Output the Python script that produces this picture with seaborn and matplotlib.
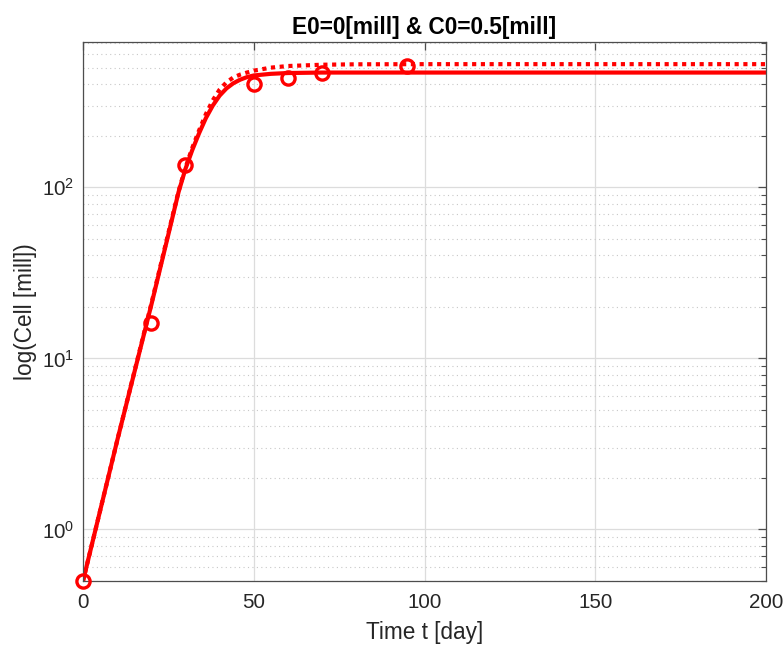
import numpy as np
import pandas as pd
import matplotlib
matplotlib.use("Agg")
import matplotlib.pyplot as plt
import seaborn as sns
from matplotlib.ticker import LogLocator, NullFormatter

# ---- data ----
obs_day = [0, 20, 30, 50, 60, 70, 95]
obs_cells = [0.5, 16.2, 135, 400, 437, 464, 514]

curve_day = [0, 10, 20, 25, 28, 30, 32, 34, 36, 38, 40, 42, 44, 46, 48, 50, 55, 60, 70, 80, 100, 150, 200]
solid_cells = [0.5, 3.3, 20.5, 53, 94, 128, 165, 207, 254, 300, 343, 378, 405, 425, 440, 450, 460, 465, 468, 468, 468, 468, 468]
dotted_cells = [0.5, 3.3, 20.8, 54, 95, 130, 170, 215, 268, 322, 372, 410, 438, 455, 468, 480, 500, 511, 520, 523, 524, 524, 524]

title = "E0=0[mill] & C0=0.5[mill]"
xlabel = "Time t [day]"
ylabel = "log(Cell [mill])"
xticks = [0, 50, 100, 150, 200]

sns.set_theme(style="white")
plt.rcParams['font.family'] = ['Liberation Sans', 'DejaVu Sans']
plt.rcParams['mathtext.fontset'] = 'custom'
plt.rcParams['mathtext.rm'] = 'Liberation Sans'
plt.rcParams['mathtext.it'] = 'Liberation Sans:italic'
plt.rcParams['mathtext.bf'] = 'Liberation Sans:bold'

fig = plt.figure(figsize=(7.84, 6.46), dpi=100)
ax = fig.add_axes([83/784, 1-581/646, (766-83)/784, (581-42)/646])

curves = pd.DataFrame({"day": curve_day, "solid": solid_cells, "dotted": dotted_cells})
obs = pd.DataFrame({"day": obs_day, "cells": obs_cells})

red = "#ff0000"
sns.lineplot(data=curves, x="day", y="dotted", ax=ax, color=red, lw=3.0,
             estimator=None, sort=False, linestyle=(0, (1, 1.1)),
             dash_capstyle='butt')
sns.lineplot(data=curves, x="day", y="solid", ax=ax, color=red, lw=3.0,
             estimator=None, sort=False)
sns.lineplot(data=obs, x="day", y="cells", ax=ax, estimator=None, sort=False,
             linestyle='none', marker='o', markersize=9.5, markerfacecolor='none',
             markeredgecolor=red, markeredgewidth=2.4, clip_on=False, zorder=5)

ax.set_yscale('log')
ax.set_xlim(0, 200)
ax.set_ylim(0.5, 706)
ax.set_xticks(xticks)
ax.yaxis.set_major_locator(LogLocator(base=10, numticks=10))
ax.yaxis.set_minor_locator(LogLocator(base=10, subs=np.arange(2, 10), numticks=20))
ax.yaxis.set_minor_formatter(NullFormatter())

tc = "#262626"
for s in ax.spines.values():
    s.set_color("#4d4d4d")
    s.set_linewidth(0.9)
ax.tick_params(which='both', direction='in', top=True, right=True, colors="#4d4d4d",
               labelcolor=tc, labelsize=14.8)
ax.tick_params(which='major', length=6, width=0.9)
ax.tick_params(which='minor', length=3.5, width=0.8)
ax.tick_params(axis='x', pad=9)
ax.tick_params(axis='y', pad=6)

ax.grid(True, which='major', color="#dcdcdc", lw=0.9, ls='-')
ax.grid(True, which='minor', axis='y', color="#c8c8c8", lw=0.8, ls=(0, (1, 3)))
ax.set_axisbelow(True)

ax.set_title(title, fontsize=16.3, fontweight='bold', color='black', pad=6)
ax.set_xlabel(xlabel, fontsize=16.3, color=tc, labelpad=6)
ax.set_ylabel(ylabel, fontsize=16.3, color=tc, labelpad=4)

fig.savefig("out.png", dpi=100)
